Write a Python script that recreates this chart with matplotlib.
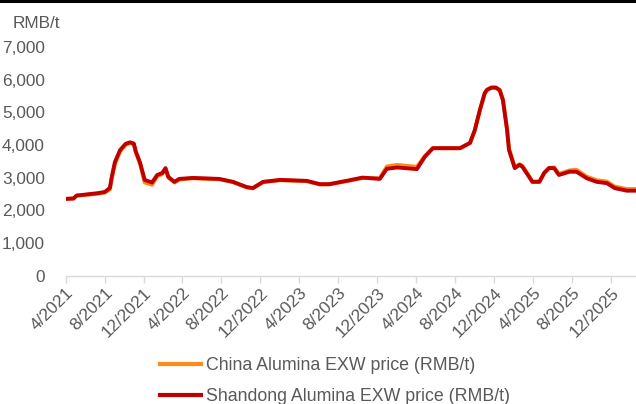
"""Alumina EXW price history, China average vs Shandong."""

import matplotlib
matplotlib.use("Agg")
import matplotlib.pyplot as plt
import matplotlib.dates as mdates
from matplotlib.lines import Line2D
import pandas as pd


# price observations (RMB/t)
DATES = [
    "2021-04-01", "2021-04-25", "2021-05-05", "2021-07-07", "2021-08-01",
    "2021-08-17", "2021-08-23", "2021-09-02", "2021-09-18", "2021-09-26",
    "2021-10-05", "2021-10-19", "2021-10-31", "2021-11-06", "2021-11-12",
    "2021-11-20", "2021-12-04", "2021-12-27",
    "2022-01-12", "2022-01-28", "2022-02-07", "2022-02-16", "2022-03-07",
    "2022-03-22", "2022-05-03", "2022-07-25", "2022-09-06", "2022-10-19",
    "2022-11-07", "2022-12-09", "2023-02-01", "2023-04-25", "2023-06-04",
    "2023-07-04", "2023-09-06", "2023-10-16", "2023-12-09", "2023-12-31",
    "2024-02-01", "2024-04-03", "2024-04-28", "2024-05-23", "2024-08-16",
    "2024-09-16", "2024-10-01", "2024-10-17", "2024-11-01", "2024-11-08",
    "2024-11-22", "2024-12-06", "2024-12-18", "2024-12-28", "2025-01-10",
    "2025-01-16", "2025-01-19",
    "2025-02-03", "2025-02-18", "2025-02-27", "2025-03-20", "2025-03-30",
    "2025-04-21", "2025-05-06", "2025-05-21", "2025-06-06", "2025-06-21",
    "2025-07-24", "2025-08-15", "2025-09-16", "2025-10-17", "2025-11-18",
    "2025-12-12", "2026-01-19", "2026-02-17",
]

CHINA_PRICE = [
    2350, 2360, 2450, 2500, 2540,
    2640, 2960, 3420, 3800, 3900,
    4000, 4060, 4020, 3780, 3620,
    3400, 2850, 2780,
    3040, 3110, 3260, 3000, 2850,
    2940, 2980, 2950, 2860, 2700,
    2670, 2860, 2920, 2890, 2790,
    2790, 2910, 2990, 2980, 3340,
    3390, 3330, 3660, 3900, 3900,
    4060, 4450, 5070, 5580, 5690,
    5760, 5760, 5680, 5380, 4480,
    3880, 3800,
    3320, 3410, 3360, 3040, 2880,
    2880, 3150, 3300, 3310, 3110,
    3220, 3240, 3030, 2920, 2880,
    2730, 2650, 2650,
]

SHANDONG_PRICE = [
    2350, 2360, 2450, 2520, 2560,
    2680, 3020, 3480, 3840, 3930,
    4030, 4080, 4040, 3800, 3650,
    3440, 2930, 2850,
    3080, 3140, 3290, 3020, 2870,
    2960, 2990, 2960, 2870, 2710,
    2680, 2870, 2930, 2900, 2800,
    2800, 2920, 3000, 2960, 3270,
    3310, 3260, 3640, 3900, 3900,
    4060, 4450, 5070, 5580, 5680,
    5750, 5750, 5670, 5370, 4450,
    3840, 3750,
    3290, 3390, 3330, 3020, 2870,
    2870, 3140, 3290, 3290, 3080,
    3180, 3180, 2980, 2870, 2830,
    2680, 2600, 2600,
]

SERIES_LABELS = [
    "China Alumina EXW price (RMB/t)",
    "Shandong Alumina EXW price (RMB/t)",
]
SERIES_COLORS = ["#FF8C1A", "#C00000"]

TEXT_COLOR = "#595959"
FONT_SIZE = 12.4

# graph size in pixels
WIDTH = 636
HEIGHT = 404
DPI = 100


def month_label(value, pos=None):
    d = mdates.num2date(value)
    return "{}/{}".format(d.month, d.year)


def draw_graph():
    plt.rcParams["font.family"] = ["Liberation Sans", "DejaVu Sans"]

    dates = pd.to_datetime(DATES)

    fig = plt.figure(figsize=(WIDTH / DPI, HEIGHT / DPI), dpi=DPI)
    ax = fig.add_axes([0.1033, 0.3176, 0.8967, 0.5665])

    for values, color, label in zip([CHINA_PRICE, SHANDONG_PRICE], SERIES_COLORS, SERIES_LABELS):
        ax.plot(dates, values, color=color, linewidth=2.8, label=label,
                solid_joinstyle="round", solid_capstyle="round")

    ax.set_ylim(0, 7000)
    ax.set_yticks(range(0, 7001, 1000))
    ax.yaxis.set_major_formatter(plt.FuncFormatter(lambda v, p: "{:,.0f}".format(v)))

    ax.set_xlim(pd.Timestamp("2021-04-01"), pd.Timestamp("2026-02-17"))
    ticks = pd.date_range("2021-04-01", "2025-12-01", freq="4MS")
    ax.set_xticks(ticks)
    ax.xaxis.set_major_formatter(plt.FuncFormatter(month_label))

    for side in ["left", "right", "top"]:
        ax.spines[side].set_visible(False)
    ax.spines["bottom"].set_color("#D9D9D9")
    ax.spines["bottom"].set_linewidth(1.0)

    ax.tick_params(axis="y", length=0, pad=15, labelsize=FONT_SIZE, labelcolor=TEXT_COLOR)
    ax.tick_params(axis="x", length=5, width=1.0, color="#D9D9D9", pad=2,
                   labelsize=FONT_SIZE, labelcolor=TEXT_COLOR)
    for lbl in ax.get_xticklabels():
        lbl.set_rotation(45)
        lbl.set_ha("right")
        lbl.set_va("top")
        lbl.set_rotation_mode("anchor")

    fig.text(13 / WIDTH, 1 - 23 / HEIGHT, "RMB/t", fontsize=FONT_SIZE,
             color=TEXT_COLOR, ha="left", va="center")

    # black rule along the top edge
    fig.add_artist(Line2D([0, 1], [1 - 1.2 / HEIGHT, 1 - 1.2 / HEIGHT],
                          transform=fig.transFigure, color="black", linewidth=2.2))

    legend_handles = [Line2D([], [], color=c, linewidth=3) for c in SERIES_COLORS]
    fig.legend(legend_handles, SERIES_LABELS, loc="upper left",
               bbox_to_anchor=(160 / WIDTH, 1 - 357 / HEIGHT), frameon=False,
               fontsize=12.8, labelcolor=TEXT_COLOR, handlelength=2.3,
               handletextpad=0.3, labelspacing=0.8, borderaxespad=0, borderpad=0)

    fig.savefig("out.png", dpi=DPI)
    plt.close(fig)


if __name__ == "__main__":
    draw_graph()
